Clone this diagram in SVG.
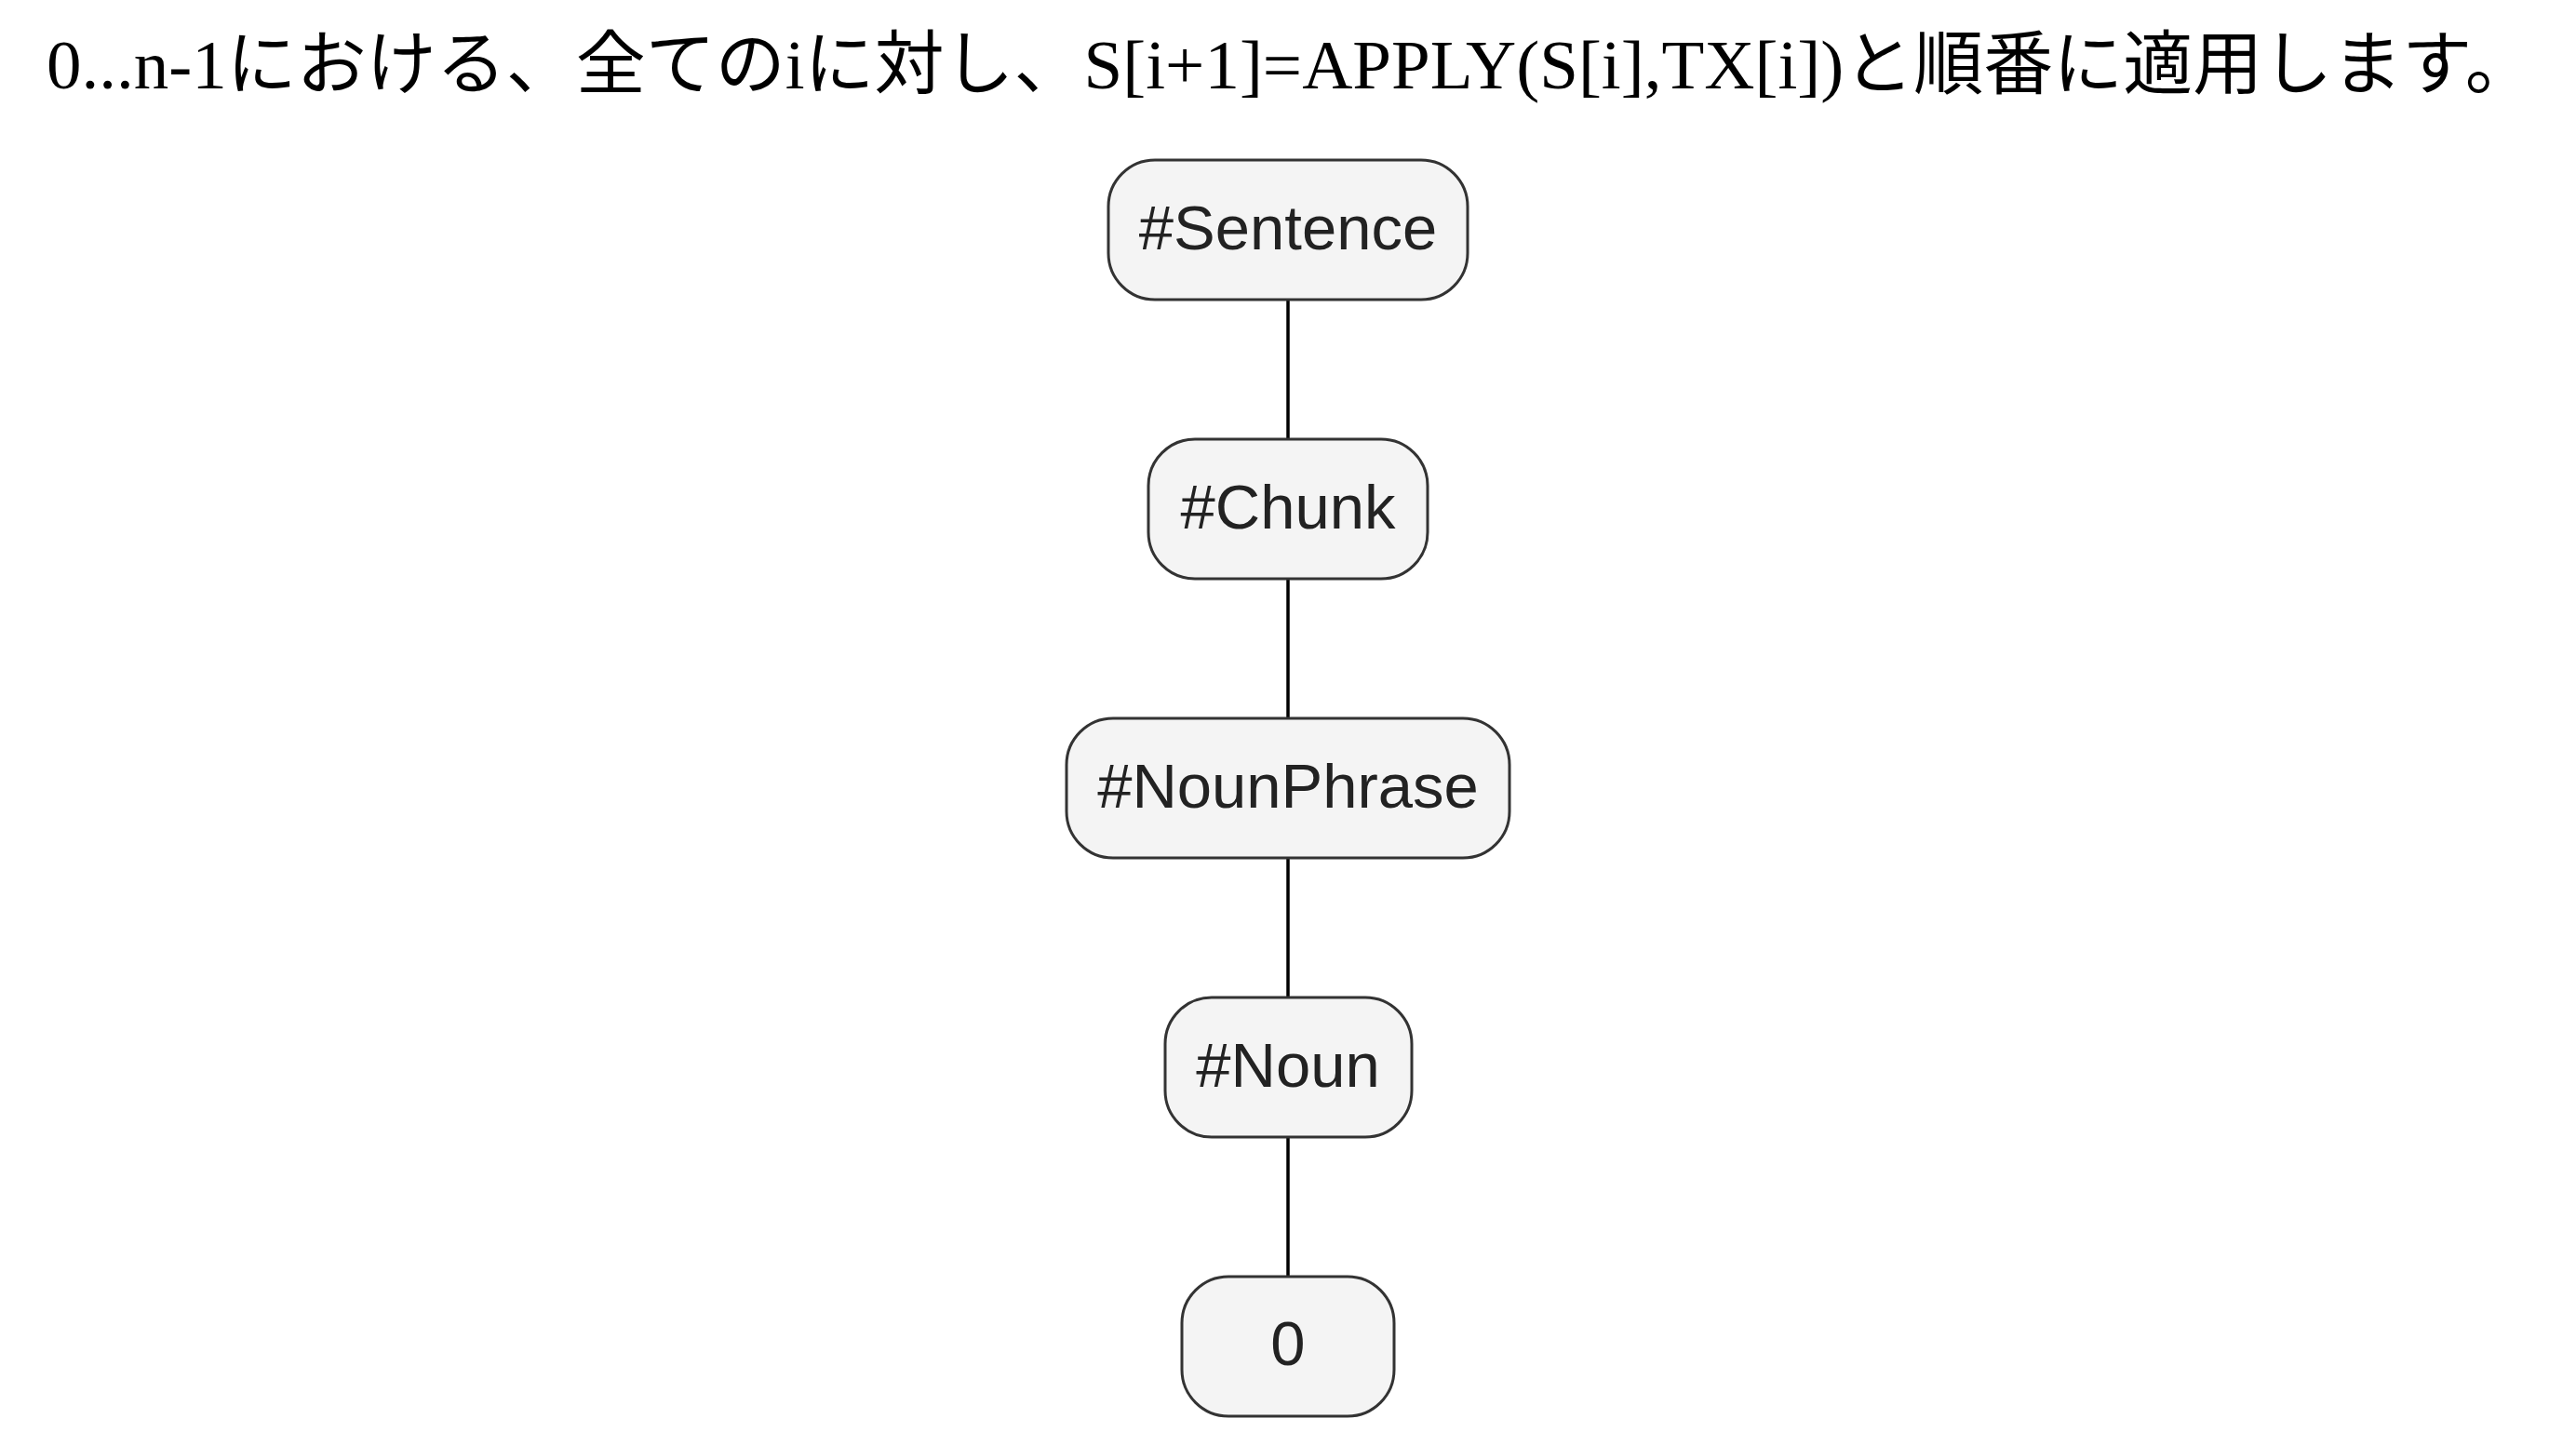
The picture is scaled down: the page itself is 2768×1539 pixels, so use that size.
<svg xmlns="http://www.w3.org/2000/svg" width="2768" height="1539" viewBox="0 0 2768 1539">
  <style>
    .title { font-family: "Liberation Serif", "Noto Sans CJK JP", serif; font-size: 75px; fill: #000; }
    .box { fill: #f4f4f4; stroke: #333; stroke-width: 3; }
    .lbl { font-family: "Liberation Sans", Arial, sans-serif; font-size: 67px; fill: #222; text-anchor: middle; }
    .edge { stroke: #000; stroke-width: 3.5; fill: none; }
  </style>
  <rect x="0" y="0" width="2768" height="1539" fill="#fff"/>
  <text class="title" x="50" y="95">0...n-1における、全てのiに対し、S[i+1]=APPLY(S[i],TX[i])と順番に適用します。</text>
  <g id="connectors">
    <line class="edge" x1="1384" y1="322" x2="1384" y2="472"/>
    <line class="edge" x1="1384" y1="622" x2="1384" y2="772"/>
    <line class="edge" x1="1384" y1="922" x2="1384" y2="1072"/>
    <line class="edge" x1="1384" y1="1222" x2="1384" y2="1372"/>
  </g>
  <g id="node-sentence">
    <rect class="box" x="1191" y="172" width="386" height="150" rx="50" ry="50"/>
    <text class="lbl" x="1384" y="268">#Sentence</text>
  </g>
  <g id="node-chunk">
    <rect class="box" x="1234" y="472" width="300" height="150" rx="50" ry="50"/>
    <text class="lbl" x="1384" y="568">#Chunk</text>
  </g>
  <g id="node-nounphrase">
    <rect class="box" x="1146" y="772" width="476" height="150" rx="50" ry="50"/>
    <text class="lbl" x="1384" y="868">#NounPhrase</text>
  </g>
  <g id="node-noun">
    <rect class="box" x="1252" y="1072" width="265" height="150" rx="50" ry="50"/>
    <text class="lbl" x="1384" y="1168">#Noun</text>
  </g>
  <g id="node-zero">
    <rect class="box" x="1270" y="1372" width="228" height="150" rx="50" ry="50"/>
    <text class="lbl" x="1384" y="1467">0</text>
  </g>
</svg>
